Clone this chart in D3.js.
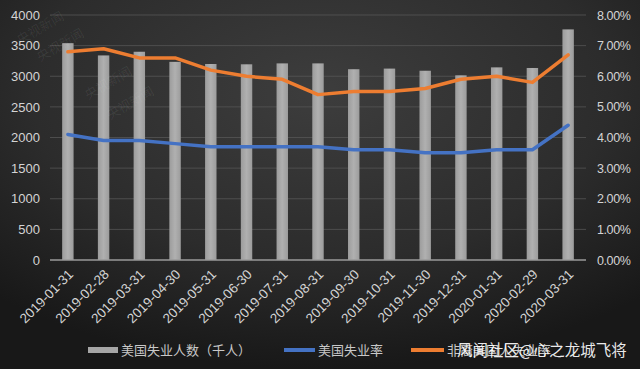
<!DOCTYPE html>
<html><head><meta charset="utf-8">
<script src="https://cdn.jsdelivr.net/npm/d3@7"></script>
<style>body{margin:0;background:#222;}svg{display:block;}</style>
</head><body><svg id="c" width="640" height="369"></svg>
<script>
const categories = ["2019-01-31","2019-02-28","2019-03-31","2019-04-30","2019-05-31","2019-06-30","2019-07-31","2019-08-31","2019-09-30","2019-10-31","2019-11-30","2019-12-31","2020-01-31","2020-02-29","2020-03-31"];
const unemployed = [3540,3340,3400,3235,3200,3195,3210,3210,3115,3125,3090,3015,3145,3135,3765];
const rateAll = [4.1,3.9,3.9,3.8,3.7,3.7,3.7,3.7,3.6,3.6,3.5,3.5,3.6,3.6,4.4];
const rateBlack = [6.8,6.9,6.6,6.6,6.2,6.0,5.9,5.4,5.5,5.5,5.6,5.9,6.0,5.8,6.7];
const leftTicks = [0,500,1000,1500,2000,2500,3000,3500,4000];
const rightTicks = [0,1,2,3,4,5,6,7,8];
const legendLabels = ["美国失业人数（千人）","美国失业率","非裔美国人失业率"];

const svg = d3.select("#c");
const W=640,H=369;
const font = "'Noto Sans CJK SC','Liberation Sans',sans-serif";
const latin = "'Liberation Sans',Arial,sans-serif";
const defs = svg.append("defs");
const rg = defs.append("radialGradient").attr("id","bg").attr("cx","50%").attr("cy","25%").attr("r","75%");
rg.append("stop").attr("offset","0%").attr("stop-color","#3d3d3d");
rg.append("stop").attr("offset","60%").attr("stop-color","#2c2c2c");
rg.append("stop").attr("offset","100%").attr("stop-color","#181818");
svg.append("rect").attr("width",W).attr("height",H).attr("fill","url(#bg)");
const bgr = defs.append("linearGradient").attr("id","bar").attr("x1","0").attr("x2","1");
bgr.append("stop").attr("offset","0%").attr("stop-color","#9c9c9c");
bgr.append("stop").attr("offset","50%").attr("stop-color","#b0b0b0");
bgr.append("stop").attr("offset","100%").attr("stop-color","#9c9c9c");

const L=50,R=586,T=15,B=260;
const x = d3.scaleBand().domain(categories).range([L,R]).paddingInner(0.68).paddingOuter(0.34);
const xc = d => x(d)+x.bandwidth()/2;
const y = d3.scaleLinear().domain([0,4000]).range([B,T]);
const y2 = d3.scaleLinear().domain([0,8]).range([B,T]);

// gridlines
svg.append("g").selectAll("line").data(leftTicks.slice(1)).join("line")
  .attr("x1",L).attr("x2",R).attr("y1",d=>y(d)).attr("y2",d=>y(d))
  .attr("stroke","#555").attr("stroke-width",0.8);

// bars
svg.append("g").selectAll("rect").data(unemployed).join("rect")
  .attr("x",(d,i)=>x(categories[i])).attr("width",x.bandwidth())
  .attr("y",d=>y(d)).attr("height",d=>B-y(d)).attr("fill","url(#bar)");

// baseline
svg.append("line").attr("x1",L).attr("x2",R).attr("y1",B).attr("y2",B).attr("stroke","#9a9a9a").attr("stroke-width",1.5);

// lines
const line = d3.line().x((d,i)=>xc(categories[i])).y(d=>y2(d));
svg.append("path").datum(rateAll).attr("d",line).attr("fill","none").attr("stroke","#4472c4").attr("stroke-width",3.5).attr("stroke-linejoin","round").attr("stroke-linecap","round");
svg.append("path").datum(rateBlack).attr("d",line).attr("fill","none").attr("stroke","#ed7d31").attr("stroke-width",3.5).attr("stroke-linejoin","round").attr("stroke-linecap","round");

// axes
const axL = svg.append("g").attr("transform",`translate(${L},0)`)
  .call(d3.axisLeft(y).tickValues(leftTicks).tickSize(0).tickPadding(10).tickFormat(d3.format("d")));
const axR = svg.append("g").attr("transform",`translate(${R},0)`)
  .call(d3.axisRight(y2).tickValues(rightTicks).tickSize(0).tickPadding(11).tickFormat(d=>d3.format(".2f")(d)+"%"));
const axB = svg.append("g").attr("transform",`translate(0,${B})`)
  .call(d3.axisBottom(x).tickSize(0).tickPadding(6));
[axL,axR,axB].forEach(a=>{a.select(".domain").remove();a.selectAll("text").attr("fill","#d4d4d4").style("font-size","13px").style("font-family",latin);});
axR.selectAll("text").style("font-size","12.5px").attr("letter-spacing","-0.4");
axB.selectAll("text").attr("text-anchor","end").attr("dx","0").attr("dy","0").style("font-size","13.5px")
  .attr("transform","translate(2,11) rotate(-45)");

// legend
const leg = [
  {x:88,w:30,c:"#a6a6a6",h:6,label:legendLabels[0]},
  {x:284,w:31,c:"#4472c4",h:4,label:legendLabels[1]},
  {x:411,w:33,c:"#ed7d31",h:4,label:legendLabels[2]}
];
const lg = svg.append("g");
leg.forEach(l=>{
  lg.append("rect").attr("x",l.x).attr("y",350-l.h/2).attr("width",l.w).attr("height",l.h).attr("fill",l.c);
  lg.append("text").attr("x",l.x+l.w+3).attr("y",355).text(l.label).attr("fill","#c8c8c8").style("font-size","13px").style("font-family",font);
});

// watermarks
const wm = ["央视新闻","央视新闻","央视新闻","央视新闻"];
const wpos = [[20,45],[40,62],[88,100],[110,120]];
svg.append("g").selectAll("text").data(wm).join("text")
  .attr("transform",(d,i)=>`translate(${wpos[i][0]},${wpos[i][1]}) rotate(-30)`)
  .text(d=>d).attr("fill","#ffffff").attr("fill-opacity",0.07).style("font-size","13px").style("font-family",font);
svg.append("text").attr("x",457).attr("y",356).text("风闻社区@心之龙城飞将").attr("fill","#ffffff").attr("fill-opacity",0.92)
  .style("font-size","15.5px").style("font-family",font);
</script></body></html>
